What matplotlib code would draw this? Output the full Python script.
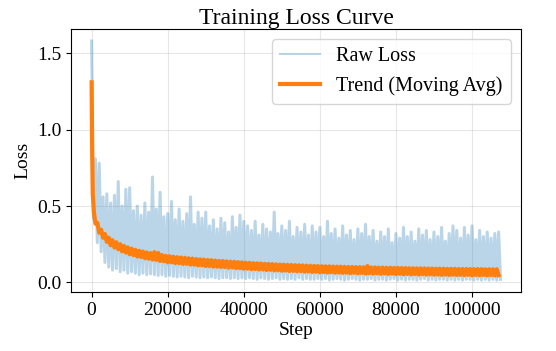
import numpy as np
import matplotlib
matplotlib.use("Agg")
import matplotlib.pyplot as plt

plt.rcParams['font.family'] = ['Liberation Serif', 'DejaVu Serif']

# raw loss: a spike value every 1000 steps (step k*1000)
raw_peaks = [1.58, 0.81, 0.78, 0.56, 0.58, 0.52, 0.57, 0.66, 0.50, 0.61,
             0.62, 0.47, 0.50, 0.44, 0.52, 0.46, 0.69, 0.48, 0.59, 0.43,
             0.45, 0.53, 0.41, 0.48, 0.40, 0.45, 0.56, 0.38, 0.46, 0.42,
             0.46, 0.37, 0.41, 0.35, 0.42, 0.39, 0.33, 0.43, 0.36, 0.44,
             0.40, 0.37, 0.34, 0.40, 0.31, 0.38, 0.35, 0.33, 0.46, 0.32,
             0.37, 0.34, 0.40, 0.30, 0.36, 0.33, 0.38, 0.31, 0.37, 0.33,
             0.36, 0.30, 0.40, 0.32, 0.35, 0.29, 0.37, 0.31, 0.34, 0.28,
             0.35, 0.32, 0.38, 0.30, 0.34, 0.27, 0.33, 0.30, 0.35, 0.26,
             0.32, 0.29, 0.36, 0.30, 0.33, 0.27, 0.35, 0.31, 0.34, 0.28,
             0.33, 0.30, 0.36, 0.27, 0.32, 0.37, 0.34, 0.29, 0.36, 0.31,
             0.37, 0.28, 0.34, 0.30, 0.33, 0.29, 0.32, 0.33]
# low points in between (step k*1000 + 500)
raw_floors = [0.42, 0.26, 0.20, 0.13, 0.10, 0.08, 0.09, 0.07, 0.08, 0.06,
              0.07, 0.06, 0.05, 0.06, 0.05, 0.055, 0.05, 0.045, 0.05, 0.04,
              0.045, 0.04, 0.035, 0.04, 0.035, 0.03, 0.04, 0.035, 0.03, 0.035,
              0.03, 0.035, 0.03, 0.025, 0.03, 0.03, 0.025, 0.03, 0.025, 0.03,
              0.025, 0.03, 0.025, 0.02, 0.03, 0.025, 0.02, 0.025, 0.03, 0.02,
              0.025, 0.02, 0.025, 0.02, 0.03, 0.02, 0.025, 0.02, 0.02, 0.025,
              0.02, 0.025, 0.015, 0.02, 0.025, 0.02, 0.015, 0.02, 0.025, 0.02,
              0.015, 0.02, 0.02, 0.025, 0.015, 0.02, 0.02, 0.015, 0.02, 0.025,
              0.015, 0.02, 0.015, 0.02, 0.02, 0.015, 0.02, 0.025, 0.015, 0.02,
              0.015, 0.02, 0.02, 0.015, 0.02, 0.015, 0.02, 0.015, 0.02, 0.02,
              0.015, 0.02, 0.015, 0.02, 0.015, 0.02, 0.015, 0.02]

# moving average
trend_steps = [0, 150, 300, 600]
trend_early = [1.31, 0.85, 0.58, 0.46]
# lower side of the jittery band, step k*1000, k = 1..107
trend_lo = [0.385, 0.325, 0.292, 0.265, 0.243, 0.228, 0.217, 0.203, 0.195, 0.184,
            0.178, 0.169, 0.166, 0.158, 0.155, 0.149, 0.147, 0.140, 0.138, 0.131,
            0.131, 0.126, 0.125, 0.121, 0.121, 0.116, 0.116, 0.111, 0.111, 0.107,
            0.107, 0.103, 0.103, 0.100, 0.100, 0.096, 0.097, 0.093, 0.093, 0.089,
            0.090, 0.086, 0.087, 0.084, 0.084, 0.081, 0.082, 0.078, 0.079, 0.076,
            0.077, 0.074, 0.075, 0.072, 0.073, 0.070, 0.071, 0.068, 0.069, 0.066,
            0.067, 0.064, 0.066, 0.063, 0.064, 0.062, 0.063, 0.060, 0.062, 0.059,
            0.061, 0.058, 0.060, 0.057, 0.059, 0.056, 0.058, 0.055, 0.057, 0.054,
            0.056, 0.053, 0.055, 0.052, 0.054, 0.051, 0.053, 0.051, 0.052, 0.050,
            0.051, 0.049, 0.051, 0.048, 0.050, 0.048, 0.049, 0.047, 0.049, 0.046,
            0.048, 0.046, 0.048, 0.045, 0.047, 0.045, 0.047]
# upper side of the band, step k*1000 + 500, k = 1..106
trend_hi = [0.390, 0.345, 0.317, 0.293, 0.276, 0.263, 0.250, 0.239, 0.229, 0.221,
            0.213, 0.207, 0.202, 0.196, 0.192, 0.198, 0.193, 0.179, 0.174, 0.171,
            0.168, 0.165, 0.163, 0.161, 0.158, 0.156, 0.153, 0.151, 0.149, 0.147,
            0.145, 0.143, 0.141, 0.140, 0.138, 0.136, 0.135, 0.133, 0.131, 0.129,
            0.128, 0.126, 0.125, 0.124, 0.122, 0.121, 0.120, 0.118, 0.117, 0.116,
            0.115, 0.114, 0.113, 0.112, 0.111, 0.110, 0.109, 0.108, 0.107, 0.106,
            0.105, 0.105, 0.104, 0.103, 0.103, 0.102, 0.101, 0.101, 0.100, 0.100,
            0.099, 0.107, 0.098, 0.098, 0.097, 0.097, 0.096, 0.096, 0.095, 0.095,
            0.094, 0.094, 0.093, 0.093, 0.092, 0.092, 0.092, 0.091, 0.091, 0.090,
            0.090, 0.090, 0.089, 0.089, 0.089, 0.088, 0.088, 0.088, 0.087, 0.087,
            0.087, 0.087, 0.086, 0.086, 0.086, 0.086]

# interleave peaks and floors into one raw series
peak_steps = np.arange(len(raw_peaks)) * 1000
floor_steps = peak_steps + 500
raw_steps = np.empty(2 * len(raw_peaks))
raw_loss = np.empty(2 * len(raw_peaks))
raw_steps[0::2] = peak_steps
raw_steps[1::2] = floor_steps
raw_loss[0::2] = raw_peaks
raw_loss[1::2] = raw_floors

# trend series: early part, then lo and hi points merged in step order
lo_steps = np.arange(1, len(trend_lo) + 1) * 1000
hi_steps = np.arange(1, len(trend_hi) + 1) * 1000 + 500
t_steps = np.concatenate([trend_steps, lo_steps, hi_steps])
t_loss = np.concatenate([trend_early, trend_lo, trend_hi])
order = np.argsort(t_steps)
t_steps, t_loss = t_steps[order], t_loss[order]

fig = plt.figure(figsize=(5.56, 3.51), dpi=100)
ax = fig.add_axes([0.128, 0.168, 0.809, 0.749])

ax.plot(raw_steps, raw_loss, color='tab:blue', alpha=0.3, lw=2.2, label='Raw Loss')
ax.plot(t_steps, t_loss, color='tab:orange', lw=3, label='Trend (Moving Avg)')

ax.set_title('Training Loss Curve', fontsize=17, pad=4)
ax.set_xlabel('Step', fontsize=14, labelpad=2)
ax.set_ylabel('Loss', fontsize=14)
ax.set_xticks([0, 20000, 40000, 60000, 80000, 100000])
ax.set_yticks([0.0, 0.5, 1.0, 1.5])
ax.tick_params(labelsize=14)
ax.grid(True, alpha=0.3)

leg = ax.legend(loc='upper right', fontsize=14.5)
leg.get_lines()[0].set_linewidth(1.5)
leg.get_lines()[1].set_linewidth(3)

fig.savefig('out.png', dpi=100)
